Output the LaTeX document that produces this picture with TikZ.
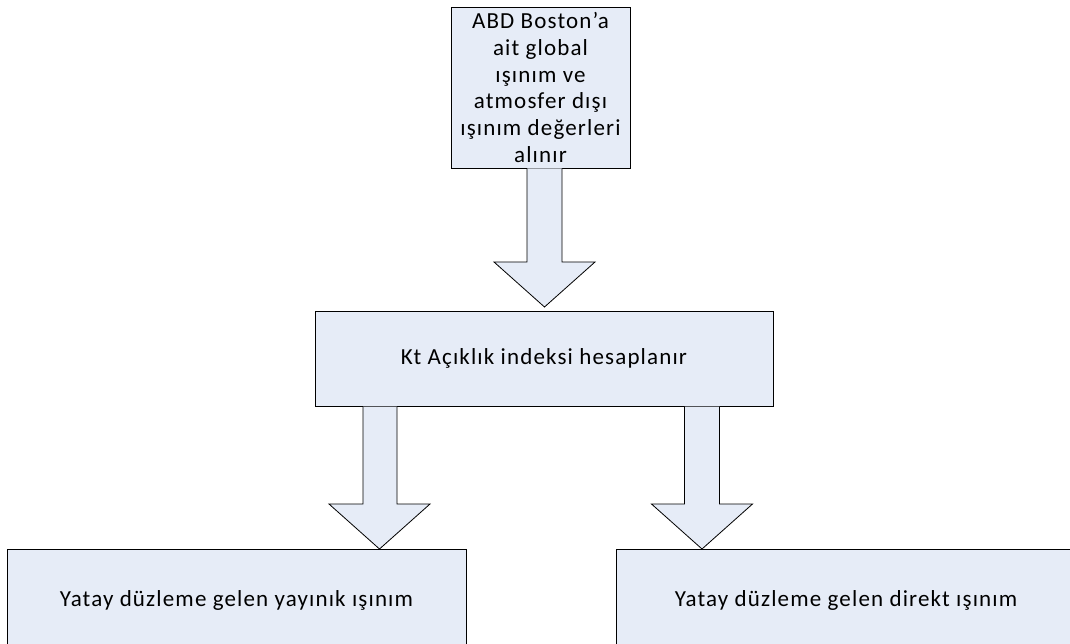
\documentclass[tikz,border=0pt]{standalone}
\usepackage{fontspec}
\setmainfont{Carlito}[LetterSpace=5]
\definecolor{boxfill}{RGB}{230,236,247}
\begin{document}
\begin{tikzpicture}[x=1pt,y=-1pt,
  boxstyle/.style={draw=black,line width=0.9pt,fill=boxfill,inner sep=0pt,align=center,font=\fontsize{23}{26.7}\selectfont},
  blockarrow/.style={draw=black,line width=0.8pt,fill=boxfill,line join=miter}]
\useasboundingbox (0,0) rectangle (1070,644);
\clip (0,0) rectangle (1070,644);
% boxes
\node[boxstyle,minimum width=179pt,minimum height=161pt] (src) at (540.5,87.5)
  {ABD Boston’a\\ait global\\ışınım ve\\atmosfer dışı\\ışınım değerleri\\alınır};
\node[boxstyle,minimum width=458pt,minimum height=95pt] (kt) at (544,358.5)
  {Kt Açıklık indeksi hesaplanır};
\node[boxstyle,minimum width=459pt,minimum height=102pt] (dif) at (236.5,600)
  {Yatay düzleme gelen yayınık ışınım};
\node[boxstyle,minimum width=460pt,minimum height=102pt] (dir) at (846,600)
  {Yatay düzleme gelen direkt ışınım};
% block arrows
\coordinate (a1) at (527,168.5);
\draw[blockarrow] (a1) -- ++(0,93.5) -- ++(-33,0) -- ++(50.5,45) -- ++(50.5,-45) -- ++(-33,0) -- ++(0,-93.5);
\coordinate (a2) at (363,406.5);
\draw[blockarrow] (a2) -- ++(0,97.5) -- ++(-34,0) -- ++(50.5,45) -- ++(50.5,-45) -- ++(-33,0) -- ++(0,-97.5);
\coordinate (a3) at (684.5,406.5);
\draw[blockarrow] (a3) -- ++(0,97.5) -- ++(-33,0) -- ++(50.5,45) -- ++(50.5,-45) -- ++(-33,0) -- ++(0,-97.5);
\end{tikzpicture}
\end{document}
